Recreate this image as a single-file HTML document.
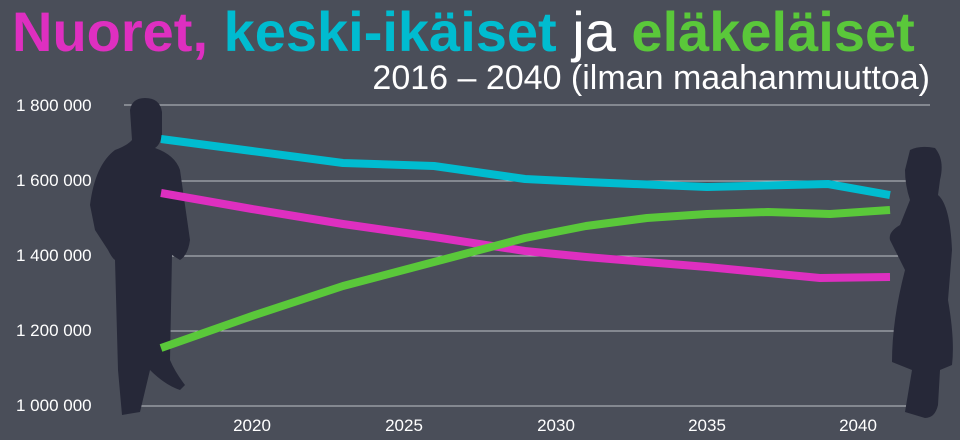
<!DOCTYPE html>
<html><head><meta charset="utf-8"><style>
html,body{margin:0;padding:0;}
body{width:960px;height:440px;background:#4a4e59;overflow:hidden;position:relative;font-family:"Liberation Sans",sans-serif;}
.t{position:absolute;left:12px;top:0px;font-size:56px;font-weight:bold;letter-spacing:0px;white-space:nowrap;line-height:64px;}
.s{position:absolute;right:30px;top:56px;font-size:34px;color:#fff;white-space:nowrap;line-height:44px;}
.y{position:absolute;left:16px;color:#fff;font-size:17px;line-height:20px;}
.x{position:absolute;top:416px;color:#fff;font-size:17px;width:60px;text-align:center;line-height:20px;}
</style></head><body>
<div class="t"><span style="color:#de2fc0">Nuoret,</span> <span style="color:#00bcd0">keski-ikäiset</span> <span style="color:#fff;font-weight:normal">ja</span> <span style="color:#5ac83a">eläkeläiset</span></div>
<div class="s">2016 – 2040 (ilman maahanmuuttoa)</div>
<div class="y" style="top:96px">1 800 000</div>
<div class="y" style="top:171px">1 600 000</div>
<div class="y" style="top:246px">1 400 000</div>
<div class="y" style="top:321px">1 200 000</div>
<div class="y" style="top:396px">1 000 000</div>
<div class="x" style="left:222px">2020</div>
<div class="x" style="left:374px">2025</div>
<div class="x" style="left:526px">2030</div>
<div class="x" style="left:677px">2035</div>
<div class="x" style="left:828px">2040</div>
<svg width="960" height="440" style="position:absolute;left:0;top:0">
<g stroke="#bfc1c6" stroke-width="1">
<line x1="124" y1="105" x2="930" y2="105"/><line x1="124" y1="181" x2="930" y2="181"/>
<line x1="124" y1="256" x2="930" y2="256"/><line x1="124" y1="331" x2="930" y2="331"/>
<line x1="124" y1="406" x2="930" y2="406"/>
</g>
<g fill="#262838">
<path d="M130,110 Q132,98 145,98 Q160,98 162,112 L162,135 Q160,145 155,148 Q175,155 180,170 L190,240 Q188,255 180,260 L172,255 L170,360 Q175,372 185,385 L180,390 Q165,385 150,370 L140,412 L122,415 L118,370 L115,260 Q112,258 108,250 L95,230 L90,205 Q95,165 115,150 Q128,145 132,140 Z"/>
<path d="M910,150 Q920,145 935,148 Q945,160 940,180 L938,195 Q950,205 952,250 L948,300 Q955,340 952,365 L940,370 L938,405 Q935,418 925,418 L905,412 L912,370 L892,362 Q892,320 905,270 L890,240 Q888,232 900,225 L910,200 Q905,185 905,170 Z"/>
</g>
<g fill="none" stroke-width="8" stroke-linejoin="round">
<polyline stroke="#00bcd0" points="161,139 252,151 343,163 434,166 525,179 586,182 707,187 828,184 890,195"/>
<polyline stroke="#de2fc0" points="161,193 252,209 343,224 434,237 525,251 586,257 707,267 820,278 890,277"/>
<polyline stroke="#5ac83a" points="161,348 252,316 343,286 434,262 525,238 586,226 647,218 707,214 768,212 830,214 890,210"/>
</g>
</svg>
</body></html>
